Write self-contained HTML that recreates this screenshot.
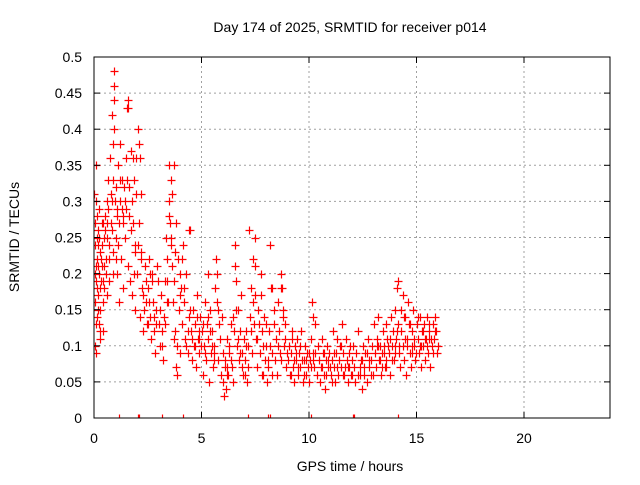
<!DOCTYPE html>
<html><head><meta charset="utf-8"><style>
body{margin:0;background:#fff}
svg{font-family:"Liberation Sans",sans-serif;font-size:14px}
</style></head><body>
<svg id="chart" width="640" height="480" viewBox="0 0 640 480" xmlns="http://www.w3.org/2000/svg">
<rect width="640" height="480" fill="#fff"/>
<text x="350" y="32" text-anchor="middle">Day 174 of 2025, SRMTID for receiver p014</text>
<text x="350" y="471" text-anchor="middle">GPS time / hours</text>
<text x="0" y="0" text-anchor="middle" transform="translate(19,237) rotate(-90)">SRMTID / TECUs</text>
<g id="grid"></g><g id="marks"></g><g id="axes"></g>
</svg>
<script>
const xTicks=[0,5,10,15,20];
const yTicks=[0,0.05,0.1,0.15,0.2,0.25,0.3,0.35,0.4,0.45,0.5];
const yTickLabels=["0","0.05","0.1","0.15","0.2","0.25","0.3","0.35","0.4","0.45","0.5"];
const hours=[0.02,0.03,0.05,0.05,0.06,0.08,0.1,0.1,0.12,0.12,0.15,0.15,0.18,0.2,0.2,0.22,0.25,0.25,0.28,0.3,0.3,0.33,0.35,0.38,0.4,0.42,0.45,0.48,
0.5,0.55,0.6,0.6,0.65,0.7,0.72,0.75,0.8,0.82,0.85,0.88,0.9,0.92,0.95,0.95,1.0,1.0,1.05,1.08,1.1,1.15,1.2,1.22,1.25,1.3,1.33,1.35,1.4,1.45,1.48,
1.5,1.55,1.58,1.6,1.65,1.7,1.72,1.75,1.8,1.85,1.9,1.9,1.95,2.0,2.05,2.1,2.1,2.15,2.2,2.25,2.3,2.35,2.4,2.45,
2.5,2.55,2.6,2.65,2.7,2.75,2.8,2.85,2.9,2.95,3.0,3.05,3.1,3.15,3.2,3.25,3.3,3.35,3.4,3.45,
3.5,3.5,3.55,3.6,3.6,3.65,3.7,3.7,3.75,3.8,3.82,3.85,3.9,3.95,4.0,4.05,4.1,4.15,4.2,4.25,4.3,4.35,4.4,4.45,
4.5,4.55,4.6,4.65,4.7,4.75,4.8,4.85,4.9,4.95,5.0,5.05,5.1,5.15,5.2,5.25,5.3,5.35,5.4,5.45,5.5,5.55,5.6,5.65,5.7,5.7,5.75,5.8,5.85,5.9,5.95,
6.0,6.05,6.1,6.15,6.2,6.25,6.3,6.35,6.4,6.45,6.5,6.55,6.6,6.65,6.7,6.75,6.8,6.85,6.9,6.95,
7.0,7.05,7.1,7.15,7.2,7.25,7.3,7.35,7.4,7.45,7.5,7.5,7.55,7.6,7.65,7.7,7.75,7.8,7.85,7.9,7.95,8.0,8.05,8.1,8.15,8.2,8.25,8.3,8.35,8.4,8.45,8.5,8.55,8.6,8.65,8.7,8.75,8.8,8.85,8.9,8.95,
9.0,9.05,9.1,9.15,9.2,9.25,9.3,9.35,9.4,9.45,9.5,9.55,9.6,9.65,9.7,9.75,9.8,9.85,9.9,9.95,10.0,10.05,10.1,10.15,10.2,10.25,10.3,10.35,10.4,10.45,10.5,10.55,10.6,10.65,10.7,10.75,10.8,10.85,10.9,10.95,11.0,11.05,11.1,11.15,11.2,11.25,11.3,11.35,11.4,11.45,11.5,11.55,11.6,11.65,11.7,11.75,11.8,11.85,11.9,11.95,
12.0,12.05,12.1,12.15,12.2,12.3,12.35,12.4,12.45,12.5,12.55,12.6,12.7,12.75,12.8,12.9,12.95,13.0,13.05,13.1,13.15,13.2,13.25,13.3,13.35,13.4,13.45,13.5,13.55,13.6,13.65,13.7,13.75,13.8,13.85,13.9,13.95,14.0,14.05,14.1,14.12,14.15,14.2,14.25,14.3,14.35,14.4,14.45,14.5,14.55,14.6,14.65,14.7,14.75,14.8,14.85,14.9,14.95,15.0,15.05,15.1,15.15,15.2,15.25,15.3,15.35,15.4,15.45,15.5,15.55,15.6,15.65,15.7,15.75,15.8,15.85,15.9,15.95,
1.15,2.05,2.1,3.15,4.15,7.15,8.1,8.2,10.1,12.05,12.1,14.15];
const srmtid=[.31,.27,.2,.16,.1,.09,.35,.3,.25,.22,.18,.14,.24,.26,.17,.13,.2,.29,.23,.15,.11,.19,.27,.21,.16,.12,.25,.18,
.28,.22,.3,.17,.33,.24,.19,.36,.27,.42,.3,.23,.38,.46,.48,.44,.32,.25,.2,.28,.35,.16,.3,.38,.22,.33,.27,.18,.32,.25,.36,
.29,.43,.44,.21,.32,.26,.37,.17,.36,.33,.24,.15,.31,.2,.4,.38,.27,.14,.23,.18,.12,.21,.16,.13,
.18,.22,.14,.11,.19,.16,.12,.09,.15,.21,.13,.1,.17,.12,.08,.14,.19,.25,.22,.16,
.35,.3,.27,.33,.24,.21,.35,.19,.12,.27,.07,.06,.22,.15,.2,.18,.13,.24,.16,.11,.2,.09,.14,.26,
.12,.08,.15,.1,.13,.07,.17,.11,.09,.14,.12,.06,.1,.16,.08,.13,.11,.05,.15,.09,.12,.07,.1,.18,.2,.16,.08,.13,.11,.06,.14,
.05,.03,.08,.04,.11,.06,.09,.13,.07,.05,.12,.24,.19,.1,.15,.08,.12,.17,.09,.06,
.08,.12,.05,.1,.26,.14,.18,.09,.22,.13,.25,.17,.11,.07,.15,.09,.2,.12,.06,.14,.08,.1,.05,.07,.12,.24,.18,.09,.13,.08,.11,.06,.16,.12,.09,.2,.18,.14,.1,.13,.07,
.08,.1,.06,.09,.12,.07,.05,.1,.08,.11,.06,.09,.07,.12,.05,.08,.1,.06,.09,.07,.05,.08,.11,.16,.14,.07,.09,.06,.1,.08,.05,.07,.11,.09,.06,.04,.08,.1,.07,.09,.06,.08,.12,.07,.05,.09,.11,.06,.08,.1,.07,.13,.09,.06,.11,.08,.05,.07,.1,.06,
.08,.1,.07,.05,.09,.12,.06,.08,.04,.1,.07,.09,.05,.11,.08,.06,.1,.13,.09,.07,.11,.14,.08,.1,.06,.09,.12,.1,.07,.13,.11,.09,.06,.14,.1,.12,.08,.15,.11,.18,.19,.13,.09,.07,.12,.1,.08,.14,.06,.11,.16,.13,.09,.07,.12,.15,.1,.08,.13,.11,.09,.14,.07,.12,.1,.13,.08,.11,.14,.09,.12,.07,.1,.13,.11,.14,.12,.09,
0,0,0,0,0,0,0,0,0,0,0,0];
const hours2=[0.04,0.07,0.09,0.13,0.17,0.19,0.23,0.27,0.32,0.36,0.41,0.44,0.47,0.52,0.57,0.62,0.67,0.71,0.77,0.83,0.87,0.93,0.97,1.03,1.07,1.12,1.18,1.23,1.28,1.37,1.43,1.52,1.62,1.68,1.77,1.83,1.88,1.97,2.03,2.12,2.18,2.28,2.33,2.43,2.52,2.58,2.68,2.78,2.88,2.98,3.08,3.18,3.28,3.38,3.48,3.57,3.63,3.68,3.78,3.88,3.98,4.08,4.18,4.28,4.38,4.48,4.58,4.68,4.78,4.88,4.98,5.08,5.18,5.28,5.38,5.48,5.58,5.68,5.78,5.88,5.98,6.08,6.18,6.28,6.38,6.48,6.58,6.68,6.78,6.88,6.98,7.08,7.18,7.28,7.38,7.48,7.58,7.68,7.78,7.88,7.98,8.08,8.18,8.28,8.38,8.48,8.58,8.68,8.78,8.88,8.98,9.08,9.18,9.28,9.38,9.48,9.58,9.68,9.78,9.88,9.98,10.08,10.18,10.28,10.38,10.48,10.58,10.68,10.78,10.88,10.98,11.08,11.18,11.28,11.38,11.48,11.58,11.68,11.78,11.88,11.98,12.08,12.18,12.28,12.38,12.48,12.58,12.68,12.78,12.88,12.98,13.08,13.18,13.28,13.38,13.48,13.58,13.68,13.78,13.88,13.98,14.08,14.18,14.28,14.38,14.48,14.58,14.68,14.78,14.88,14.98,15.08,15.18,15.28,15.38,15.48,15.58,15.68,15.78,15.88,15.98,0.1,0.3,0.6,0.9,1.2,1.6,1.9,2.2,2.6,3.4,3.7,4.0,4.4,4.9,5.3,5.6,6.2,6.6,7.0,7.4,7.8,8.3,8.7,9.2,9.6,10.2,10.6,11.0,11.4,11.8,12.3,12.8,13.2,13.6,14.0,14.4,14.8,15.2,15.6];
const srmtid2=[.24,.21,.19,.28,.21,.15,.25,.18,.22,.24,.19,.27,.21,.26,.2,.25,.29,.22,.31,.26,.33,.4,.3,.22,.29,.24,.27,.33,.29,.28,.3,.33,.28,.19,.3,.27,.2,.36,.24,.36,.22,.17,.15,.19,.13,.16,.2,.14,.13,.19,.15,.1,.13,.16,.28,.25,.31,.16,.23,.1,.17,.22,.18,.1,.12,.15,.11,.1,.14,.12,.1,.13,.09,.14,.12,.1,.08,.22,.15,.11,.09,.07,.06,.1,.08,.14,.21,.11,.09,.07,.11,.1,.07,.12,.16,.21,.11,.13,.17,.1,.13,.08,.1,.06,.15,.11,.1,.18,.15,.11,.09,.1,.06,.08,.09,.07,.1,.08,.06,.08,.09,.07,.08,.13,.06,.08,.07,.09,.06,.08,.07,.05,.09,.07,.08,.1,.06,.07,.08,.09,.06,.07,.09,.06,.07,.08,.06,.09,.07,.08,.06,.09,.1,.08,.07,.09,.08,.1,.11,.08,.09,.12,.1,.15,.17,.11,.1,.13,.1,.11,.09,.14,.1,.12,.11,.1,.13,.11,.09,.12,.1,.13,.12,.27,.2,.3,.43,.23,.31,.2,.19,.11,.09,.26,.11,.2,.09,.07,.15,.06,.16,.06,.18,.08,.11,.07,.09,.07,.06,.08,.07,.06,.08,.1,.07,.1,.14,.09,.1,.11,.13];
const X0=94,X1=610,Y0=418,Y1=57,XMAX=24,YMAX=0.5;
const sx=v=>X0+v/XMAX*(X1-X0), sy=v=>Y0-v/YMAX*(Y0-Y1);
const NS="http://www.w3.org/2000/svg";
function mk(t,a,p){const e=document.createElementNS(NS,t);for(const k in a)e.setAttribute(k,a[k]);p.appendChild(e);return e;}
const grid=document.getElementById('grid'),axes=document.getElementById('axes'),marks=document.getElementById('marks');
yTicks.forEach((t,i)=>{const y=sy(t);
 if(i>0&&i<yTicks.length-1){const g=mk('line',{x1:X0,x2:X1,y1:y,y2:y,stroke:'#a0a0a0','stroke-dasharray':'2,3'},grid);
 
 }
 mk('line',{x1:X0,x2:X0+6,y1:y,y2:y,stroke:'#000'},axes);
 mk('line',{x1:X1-6,x2:X1,y1:y,y2:y,stroke:'#000'},axes);
 const l=mk('text',{x:X0-12,y:y+5,'text-anchor':'end'},axes);l.textContent=yTickLabels[i];
 
 
});
xTicks.forEach(t=>{const x=sx(t);
 if(t>0){const g=mk('line',{x1:x,x2:x,y1:Y0,y2:Y1,stroke:'#a0a0a0','stroke-dasharray':'2,3'},grid);
 
 }
 mk('line',{x1:x,x2:x,y1:Y0,y2:Y0-6,stroke:'#000'},axes);
 mk('line',{x1:x,x2:x,y1:Y1,y2:Y1+6,stroke:'#000'},axes);
 const l=mk('text',{x:x,y:Y0+25,'text-anchor':'middle'},axes);l.textContent=t;
 
 
});
const box=mk('rect',{x:X0,y:Y1,width:X1-X0,height:Y0-Y1,fill:'none',stroke:'#000'},axes);


const cp=mk('clipPath',{id:'clip'},marks);mk('rect',{x:X0,y:Y1,width:X1-X0,height:Y0-Y1},cp);
marks.setAttribute('clip-path','url(#clip)');
function plus(xs,ys){let d='';
 for(let i=0;i<xs.length;i++){const x=Math.round(sx(xs[i]))+0.5,y=Math.round(sy(ys[i]))+0.5;
  d+=`M${x-4},${y}h8M${x},${y-4}v8`;}
 return d;}
const p=mk('path',{d:plus(hours,srmtid)+plus(hours2,srmtid2),stroke:'#f00','stroke-width':1.2,fill:'none'},marks);


</script>
</body></html>
